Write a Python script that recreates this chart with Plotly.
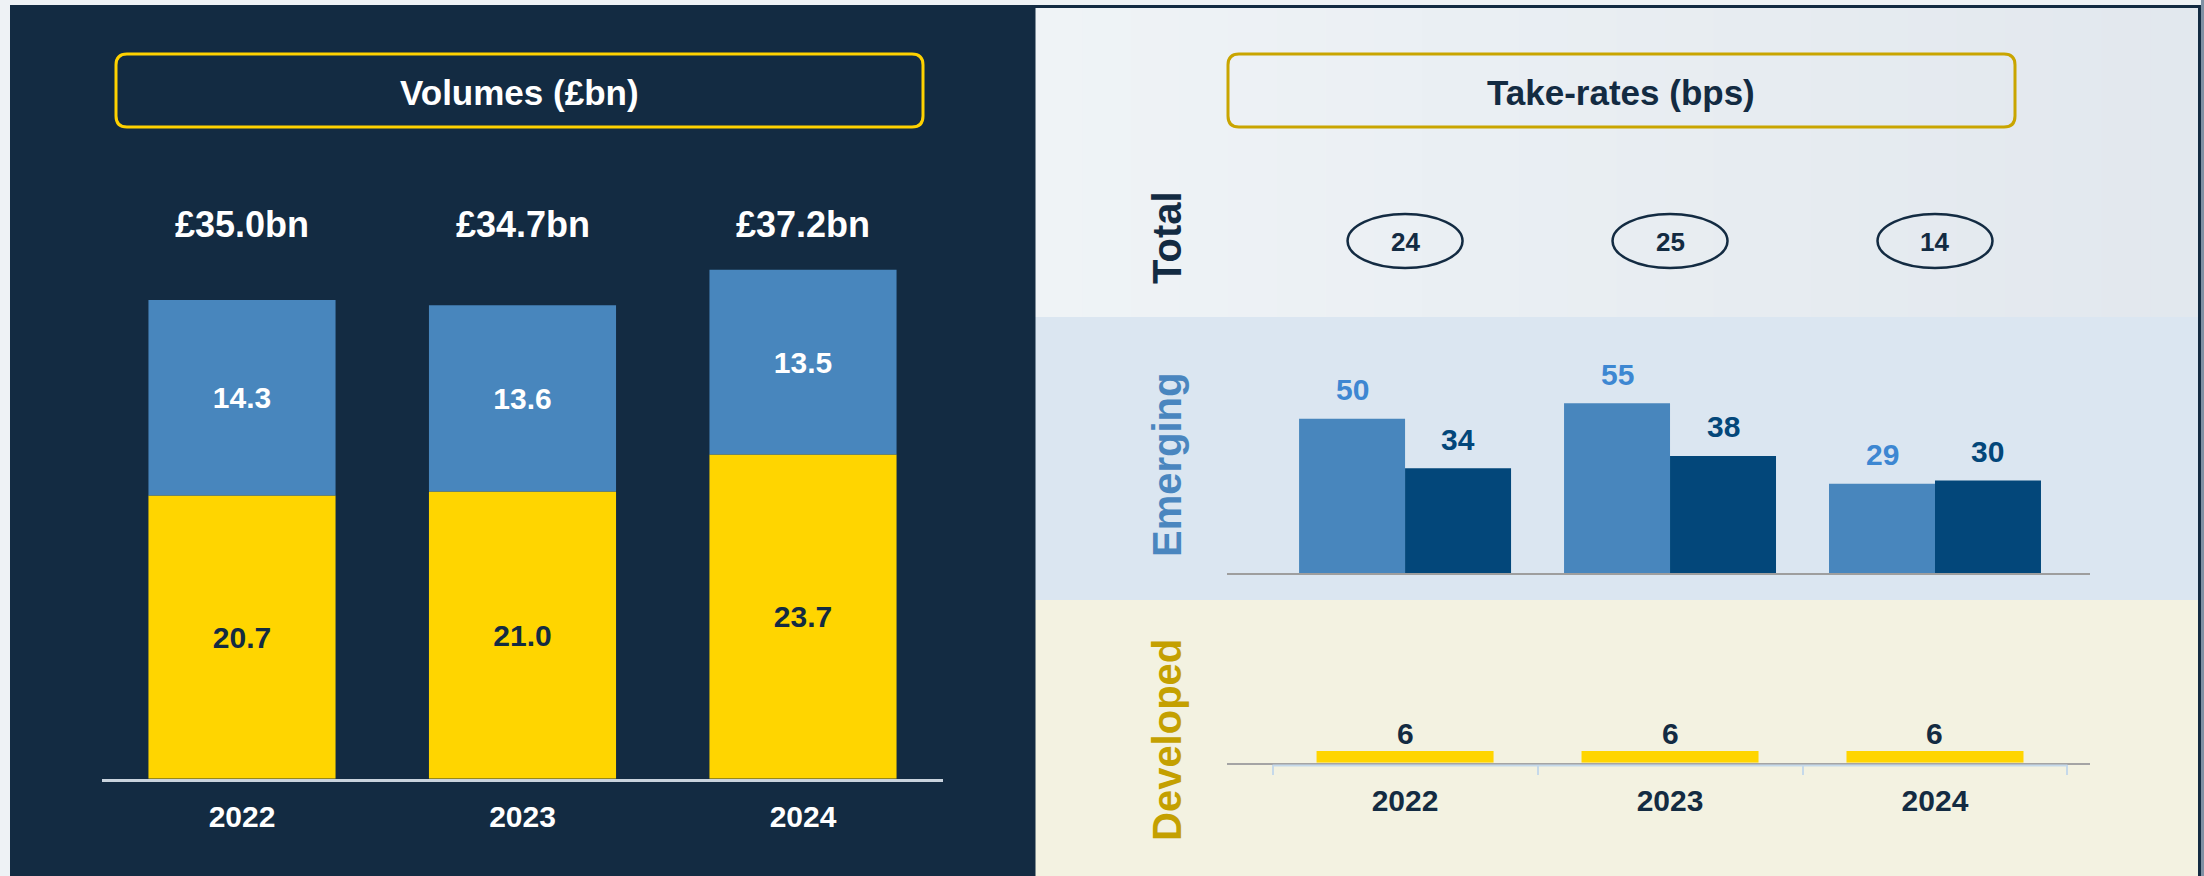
import plotly.graph_objects as go

# ---------------- data ----------------
years = ["2022", "2023", "2024"]
vol_developed = [20.7, 21.0, 23.7]
vol_emerging = [14.3, 13.6, 13.5]
vol_totals = [35.0, 34.7, 37.2]

take_total = [24, 25, 14]
take_emerging_a = [50, 55, 29]
take_emerging_b = [34, 38, 30]
take_developed = [6, 6, 6]

# ---------------- style ----------------
W, H = 2204, 876
FONT = "Arial, Liberation Sans, sans-serif"
NAVY = "#132b42"
YELLOW = "#FFD500"
STEEL = "#4886bd"
DARKBLUE = "#03477a"
LABELBLUE = "#3d87d2"
GOLD = "#c4a000"


def fx(px):
    return px / W


def fy(py):
    return 1 - py / H


def rounded_path(x0, y0, x1, y1, r):
    def P(x, y):
        return f"{fx(x):.6f},{fy(y):.6f}"
    return (f"M{P(x0 + r, y0)} L{P(x1 - r, y0)} Q{P(x1, y0)} {P(x1, y0 + r)} "
            f"L{P(x1, y1 - r)} Q{P(x1, y1)} {P(x1 - r, y1)} L{P(x0 + r, y1)} "
            f"Q{P(x0, y1)} {P(x0, y1 - r)} L{P(x0, y0 + r)} Q{P(x0, y0)} {P(x0 + r, y0)} Z")


def lerp_color(c0, c1, t):
    a = [int(c0[i:i + 2], 16) for i in (1, 3, 5)]
    b = [int(c1[i:i + 2], 16) for i in (1, 3, 5)]
    return "#" + "".join(f"{round(a[k] + (b[k] - a[k]) * t):02x}" for k in range(3))


fig = go.Figure()

# ---------- left: volumes stacked ----------
fig.add_trace(go.Bar(
    x=years, y=vol_developed, xaxis="x", yaxis="y", offsetgroup="L", width=0.667,
    marker=dict(color=YELLOW, line=dict(width=0)),
    text=[f"{v:.1f}" for v in vol_developed], textposition="inside", insidetextanchor="middle",
    textfont=dict(family=FONT, size=30, color=NAVY, weight="bold"), showlegend=False,
    hoverinfo="skip"))
fig.add_trace(go.Bar(
    x=years, y=vol_emerging, base=vol_developed, xaxis="x", yaxis="y", offsetgroup="L", width=0.667,
    marker=dict(color=STEEL, line=dict(width=0)),
    text=[f"{v:.1f}" for v in vol_emerging], textposition="inside", insidetextanchor="middle",
    textfont=dict(family=FONT, size=30, color="white", weight="bold"), showlegend=False,
    hoverinfo="skip"))

# ---------- right: emerging grouped ----------
fig.add_trace(go.Bar(
    x=years, y=take_emerging_a, xaxis="x2", yaxis="y2", offsetgroup="a",
    marker=dict(color=STEEL, line=dict(width=0)), showlegend=False, hoverinfo="skip"))
fig.add_trace(go.Bar(
    x=years, y=take_emerging_b, xaxis="x2", yaxis="y2", offsetgroup="b",
    marker=dict(color=DARKBLUE, line=dict(width=0)), showlegend=False, hoverinfo="skip"))

# ---------- right: developed ----------
fig.add_trace(go.Bar(
    x=years, y=take_developed, xaxis="x3", yaxis="y3", width=0.668,
    marker=dict(color=YELLOW, line=dict(width=0)), showlegend=False, hoverinfo="skip"))

BARGAP = 0.2
grp_off = (1 - BARGAP) / 4

shapes = []
# backgrounds
shapes.append(dict(type="rect", xref="paper", yref="paper", layer="below",
                   x0=fx(10), x1=fx(1034), y0=fy(5), y1=fy(880), fillcolor=NAVY, line=dict(width=0)))
# subtle horizontal gradient on the "Total" band
N_STRIPS = 24
bx0, bx1 = 1034, 2199
for k in range(N_STRIPS):
    sx0 = bx0 + (bx1 - bx0) * k / N_STRIPS
    sx1 = bx0 + (bx1 - bx0) * (k + 1) / N_STRIPS + 0.6
    shapes.append(dict(type="rect", xref="paper", yref="paper", layer="below",
                       x0=fx(sx0), x1=fx(sx1), y0=fy(7), y1=fy(317),
                       fillcolor=lerp_color("#eff3f6", "#e2e8ee", k / (N_STRIPS - 1)), line=dict(width=0)))
shapes.append(dict(type="rect", xref="paper", yref="paper", layer="below",
                   x0=fx(1034), x1=fx(2199), y0=fy(317), y1=fy(600), fillcolor="#dbe6f1", line=dict(width=0)))
shapes.append(dict(type="rect", xref="paper", yref="paper", layer="below",
                   x0=fx(1034), x1=fx(2199), y0=fy(600), y1=fy(880), fillcolor="#f3f2e1", line=dict(width=0)))
shapes.append(dict(type="rect", xref="paper", yref="paper", layer="below",
                   x0=fx(2201), x1=fx(2206), y0=fy(0), y1=fy(880), fillcolor="#7f91a4", line=dict(width=0)))
shapes.append(dict(type="rect", xref="paper", yref="paper", layer="above",
                   x0=fx(1034), x1=fx(2199.5), y0=fy(6.5), y1=fy(890), fillcolor="rgba(0,0,0,0)",
                   line=dict(color=NAVY, width=3)))
# title boxes
shapes.append(dict(type="path", xref="paper", yref="paper", path=rounded_path(116, 54, 923, 127, 11),
                   line=dict(color="#FFD200", width=3), fillcolor="rgba(0,0,0,0)"))
shapes.append(dict(type="path", xref="paper", yref="paper", path=rounded_path(1228, 54, 2015, 127, 11),
                   line=dict(color="#C9A500", width=3), fillcolor="rgba(0,0,0,0)"))
# total ellipses
for i in range(len(years)):
    shapes.append(dict(type="circle", xref="x3", yref="paper",
                       x0=i - 0.217, x1=i + 0.217, y0=fy(268), y1=fy(214),
                       line=dict(color=NAVY, width=2.5), fillcolor="rgba(0,0,0,0)"))
# light line beneath developed axis
shapes.append(dict(type="line", xref="x3", yref="paper", x0=-0.5, x1=len(years) - 0.5,
                   y0=fy(765.5), y1=fy(765.5), line=dict(color="#c5d9ea", width=2)))

annotations = []
annotations.append(dict(text="<b>Volumes (£bn)</b>", xref="paper", yref="paper", x=fx(519.5), y=fy(93),
                        showarrow=False, font=dict(family=FONT, size=35, color="white"),
                        xanchor="center", yanchor="middle"))
annotations.append(dict(text="<b>Take-rates (bps)</b>", xref="paper", yref="paper", x=fx(1621), y=fy(93),
                        showarrow=False, font=dict(family=FONT, size=35, color=NAVY),
                        xanchor="center", yanchor="middle"))
TOTAL_LEVEL = 40.5
for i, t in enumerate(vol_totals):
    annotations.append(dict(text=f"<b>£{t:.1f}bn</b>", xref="x", yref="y", x=i, y=TOTAL_LEVEL,
                            showarrow=False, font=dict(family=FONT, size=36, color="white"),
                            xanchor="center", yanchor="middle"))
# row labels
for txt, col, py in [("Total", NAVY, 238), ("Emerging", "#4a86bf", 465), ("Developed", GOLD, 740)]:
    annotations.append(dict(text=f"<b>{txt}</b>", xref="paper", yref="paper", x=fx(1167), y=fy(py),
                            showarrow=False, textangle=-90, font=dict(family=FONT, size=40, color=col),
                            xanchor="center", yanchor="middle"))
# total values
for i, v in enumerate(take_total):
    annotations.append(dict(text=f"<b>{v}</b>", xref="x3", yref="paper", x=i, y=fy(242),
                            showarrow=False, font=dict(family=FONT, size=26, color=NAVY),
                            xanchor="center", yanchor="middle"))
# emerging values
for i, v in enumerate(take_emerging_a):
    annotations.append(dict(text=f"<b>{v}</b>", xref="x2", yref="y2", x=i - grp_off, y=v, yshift=29,
                            showarrow=False, font=dict(family=FONT, size=30, color=LABELBLUE),
                            xanchor="center", yanchor="middle"))
for i, v in enumerate(take_emerging_b):
    annotations.append(dict(text=f"<b>{v}</b>", xref="x2", yref="y2", x=i + grp_off, y=v, yshift=29,
                            showarrow=False, font=dict(family=FONT, size=30, color=DARKBLUE),
                            xanchor="center", yanchor="middle"))
for i, v in enumerate(take_developed):
    annotations.append(dict(text=f"<b>{v}</b>", xref="x3", yref="y3", x=i, y=v, yshift=18,
                            showarrow=False, font=dict(family=FONT, size=30, color=NAVY),
                            xanchor="center", yanchor="middle"))

# axis domains (pixel based)
left_base, left_scale, left_max = 778.7, 13.68, 45
em_base, em_scale, em_max = 573.3, 3.09, 70
dev_base, dev_scale, dev_max = 762.7, 1.95, 30
RX0, RX1 = 1227, 2090
rrange = [-0.672, 2.585]

fig.update_layout(
    width=W, height=H, margin=dict(l=0, r=0, t=0, b=0),
    paper_bgcolor="#eef2f5", plot_bgcolor="rgba(0,0,0,0)",
    barmode="group", bargap=BARGAP, bargroupgap=0,
    font=dict(family=FONT),
    xaxis=dict(domain=[fx(101.75), fx(943.25)], range=[-0.5, 2.5], type="category",
               showline=True, linecolor="#c9d3dd", linewidth=3, showgrid=False, zeroline=False,
               ticks="", tickfont=dict(family=FONT, size=30, color="white", weight="bold"),
               ticklabelstandoff=9, fixedrange=True),
    yaxis=dict(domain=[fy(left_base), fy(left_base - left_scale * left_max)], range=[0, left_max],
               visible=False, fixedrange=True),
    xaxis2=dict(domain=[fx(RX0), fx(RX1)], range=rrange, type="category", anchor="y2",
                showline=True, linecolor="#9e9e9e", linewidth=2, showgrid=False, zeroline=False,
                showticklabels=False, ticks="", fixedrange=True),
    yaxis2=dict(domain=[fy(em_base), fy(em_base - em_scale * em_max)], range=[0, em_max], anchor="x2",
                visible=False, fixedrange=True),
    xaxis3=dict(domain=[fx(RX0), fx(RX1)], range=rrange, type="category", anchor="y3",
                showline=True, linecolor="#a4a4a4", linewidth=2, showgrid=False, zeroline=False,
                ticks="outside", tickson="boundaries", ticklen=10, tickwidth=2, tickcolor="#c5d9ea",
                tickfont=dict(family=FONT, size=30, color=NAVY, weight="bold"),
                ticklabelstandoff=10, fixedrange=True),
    yaxis3=dict(domain=[fy(dev_base), fy(dev_base - dev_scale * dev_max)], range=[0, dev_max], anchor="x3",
                visible=False, fixedrange=True),
    shapes=shapes, annotations=annotations,
)

fig.write_html("out.html", config={"displayModeBar": False},
               post_script="document.body.style.margin='0px';document.body.style.overflow='hidden';")
